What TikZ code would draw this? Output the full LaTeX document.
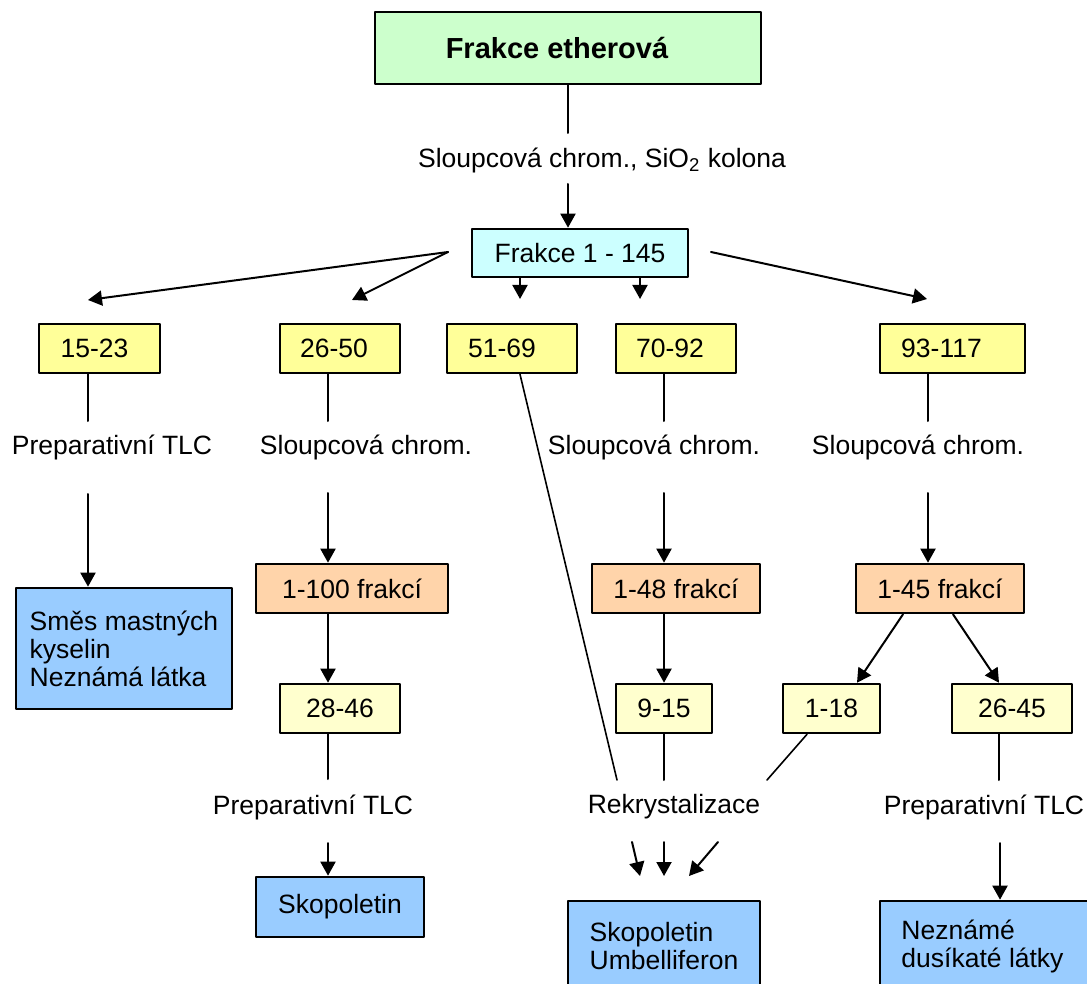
\documentclass[tikz,border=0pt]{standalone}
\usepackage{fontspec}
\setmainfont{Liberation Sans}
\usetikzlibrary{arrows.meta}
\definecolor{etherGreen}{RGB}{204,255,204}
\definecolor{fracCyan}{RGB}{204,255,255}
\definecolor{rangeYellow}{RGB}{255,255,153}
\definecolor{subYellow}{RGB}{255,255,206}
\definecolor{fracPeach}{RGB}{255,212,170}
\definecolor{resultBlue}{RGB}{153,204,255}
\newcommand{\diagfont}{\fontsize{13.25pt}{14pt}\selectfont}
\newcommand{\titlefont}{\fontsize{14.5pt}{16pt}\bfseries\selectfont}
\begin{document}
\begin{tikzpicture}[x=0.5pt, y=-0.5pt, line cap=round, line join=round,
  box/.style={draw=black, line width=1.3pt, inner sep=0pt, minimum height=24.5pt, font=\diagfont},
  lbl/.style={inner sep=0pt, font=\diagfont},
  con/.style={line width=1pt},
  thincon/.style={line width=0.8pt},
  arr/.style={con, -{Triangle[length=7pt,width=7.5pt]}}]
% Page frame (pixel grid of the scan)
\useasboundingbox (0,0) rectangle (1087,984);
\clip (0,0) rectangle (1087,984);
% Top
\node[box, fill=etherGreen, minimum width=193pt, minimum height=36pt, font=\titlefont] (ether) at (568,48) {Frakce etherová\hspace*{11pt}};
\node[lbl] (lsio) at (602,160) {Sloupcová chrom., SiO\textsubscript{2} kolona};
\node[box, fill=fracCyan, minimum width=108pt, minimum height=24pt] (frac) at (580,253) {Frakce 1 - 145};
% First fractions
\node[box, fill=rangeYellow, minimum width=60.5pt] (y1523) at (99.5,348.5) {15-23\hspace*{5pt}};
\node[box, fill=rangeYellow, minimum width=60pt] (y2650) at (340,348.5) {26-50\hspace*{6pt}};
\node[box, fill=rangeYellow, minimum width=65pt] (y5169) at (512,348.5) {51-69\hspace*{10pt}};
\node[box, fill=rangeYellow, minimum width=60pt] (y7092) at (676,348.5) {70-92\hspace*{6pt}};
\node[box, fill=rangeYellow, minimum width=72.5pt] (y93117) at (952.5,348.5) {93-117\hspace*{11pt}};
% Methods
\node[lbl] (lprep1) at (112,447) {Preparativní TLC};
\node[lbl] (lsl2) at (366,447) {Sloupcová chrom.};
\node[lbl] (lsl3) at (654,447) {Sloupcová chrom.};
\node[lbl] (lsl4) at (918,447) {Sloupcová chrom.};
% Column fractions
\node[box, fill=fracPeach, minimum width=96pt] (p1100) at (352,588.5) {1-100 frakcí};
\node[box, fill=fracPeach, minimum width=84pt] (p148) at (676,588.5) {1-48 frakcí};
\node[box, fill=fracPeach, minimum width=84pt] (p145) at (940,588.5) {1-45 frakcí};
\node[box, fill=subYellow, minimum width=60pt] (l2846) at (340,708.5) {28-46};
\node[box, fill=subYellow, minimum width=48pt] (l915) at (664,708.5) {9-15};
\node[box, fill=subYellow, minimum width=48.5pt] (l118) at (831.5,708.5) {1-18};
\node[box, fill=subYellow, minimum width=60pt] (l2645) at (1012,708.5) {26-45};
\node[lbl] (lprep2) at (313,807) {Preparativní TLC};
\node[lbl] (lrek) at (674,807) {Rekrystalizace};
\node[lbl] (lprep3) at (984,807) {Preparativní TLC};
% Results
\node[box, fill=resultBlue, minimum width=108pt, minimum height=60.5pt, align=left] (smes) at (124,648.5) {Směs mastných\\kyselin\\Neznámá látka};
\node[box, fill=resultBlue, minimum width=84pt, minimum height=30pt] (skop) at (340,907) {Skopoletin};
\node[box, fill=resultBlue, minimum width=96pt, minimum height=45pt, align=left] (skum) at (664,946) {Skopoletin\\Umbelliferon};
\node[box, fill=resultBlue, minimum width=110pt, minimum height=45pt, align=left] (nezn) at (990,946) {Neznámé\\dusíkaté látky\hspace*{7.5pt}};
% Free ends
\coordinate (c0a) at (568,133);
\coordinate (c0b) at (568,184);
\coordinate (fl) at (448,252);
\coordinate (fr) at (711,252);
\coordinate (t1) at (88,300);
\coordinate (t2) at (352,300);
\coordinate (t3) at (520,299);
\coordinate (t4) at (640,299);
\coordinate (t5) at (927,299);
\coordinate (a1) at (88,421);
\coordinate (b1) at (88,494);
\coordinate (a2) at (328,421);
\coordinate (b2) at (328,493);
\coordinate (a4) at (664,421);
\coordinate (b4) at (664,493);
\coordinate (a5) at (928,421);
\coordinate (b5) at (928,493);
\coordinate (a6) at (328,779);
\coordinate (b6) at (328,843);
\coordinate (r1) at (617,780);
\coordinate (r2) at (664,780);
\coordinate (r3) at (767,780);
\coordinate (k1) at (632,842);
\coordinate (k2) at (664,842);
\coordinate (k3) at (718,842);
\coordinate (e1) at (640,876);
\coordinate (e2) at (664,876);
\coordinate (e3) at (689,876);
\coordinate (a7) at (999,780);
\coordinate (b7) at (1000,843);
% Connectors
\draw[con] (ether.south) -- (c0a);
\draw[arr] (c0b) -- (c0b |- frac.north);
\draw[arr] (fl) -- (t1);
\draw[arr] (fl) -- (t2);
\draw[arr] (frac.south -| t3) -- (t3);
\draw[arr] (frac.south -| t4) -- (t4);
\draw[arr] (fr) -- (t5);
% 15-23
\draw[con] (y1523.south -| a1) -- (a1);
\draw[arr] (b1) -- (b1 |- smes.north);
% 26-50
\draw[con] (y2650.south -| a2) -- (a2);
\draw[arr] (b2) -- (b2 |- p1100.north);
\draw[arr] (p1100.south -| b2) -- (b2 |- l2846.north);
\draw[con] (l2846.south -| a6) -- (a6);
\draw[arr] (b6) -- (b6 |- skop.north);
% 51-69
\draw[thincon] (y5169.south -| t3) -- (r1);
% 70-92
\draw[con] (y7092.south -| a4) -- (a4);
\draw[arr] (b4) -- (b4 |- p148.north);
\draw[arr] (p148.south -| b4) -- (b4 |- l915.north);
\draw[con] (l915.south) -- (r2);
% 93-117
\draw[con] (y93117.south -| a5) -- (a5);
\draw[arr] (b5) -- (b5 |- p145.north);
\draw[arr] ([xshift=-18.5pt]p145.south) -- ([xshift=12.75pt]l118.north);
\draw[arr] ([xshift=6.5pt]p145.south) -- ([xshift=-6.5pt]l2645.north);
\draw[thincon] ([xshift=-12.25pt]l118.south) -- (r3);
\draw[con] ([xshift=-6.5pt]l2645.south) -- (a7);
\draw[arr] (b7) -- (b7 |- nezn.north);
% Rekrystalizace
\draw[arr] (k1) -- (e1);
\draw[arr] (k2) -- (e2);
\draw[arr] (k3) -- (e3);
\end{tikzpicture}
\end{document}
